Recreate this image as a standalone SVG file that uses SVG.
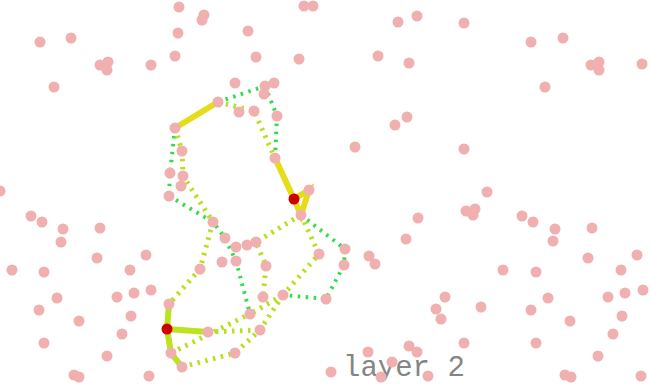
<svg xmlns="http://www.w3.org/2000/svg" width="652" height="385" viewBox="0 0 652 385">
<style>
.ty{fill:none;stroke:#e5dc1a;stroke-width:6}
.tg{fill:none;stroke:#bde21e;stroke-width:6}
.dg{fill:none;stroke:#33dd4a;stroke-width:4;stroke-dasharray:2.5 5.5}
.dy{fill:none;stroke:#b8e020;stroke-width:5;stroke-dasharray:2.5 5.5}
.p{fill:#f0b0b0}
.r{fill:#cc0000}
.lbl{font-family:"Liberation Mono","DejaVu Sans Mono",monospace;font-size:29px;fill:#858585}
</style>
<rect width="652" height="385" fill="#ffffff"/>
<text class="lbl" x="343" y="376">layer 2</text>
<g id="connectors">
<polyline class="dg" points="218,102 265,86"/>
<polyline class="dg" points="265,86 277,116 275,158"/>
<polyline class="dg" points="175,128 170,173 169,196"/>
<polyline class="dg" points="169,196 213,222 225,238 236,261 250,314"/>
<polyline class="dg" points="301,215 345,249 344,265 326,299 283,295"/>
<polyline class="dy" points="218,102 254,111 275,158"/>
<polyline class="dy" points="175,128 182,151 183,176 213,222"/>
<polyline class="dy" points="213,222 200,269 169,304"/>
<polyline class="dy" points="301,215 256,242 266,266 263,297"/>
<polyline class="dy" points="301,215 319,254 283,295"/>
<polyline class="dy" points="283,295 250,314"/>
<polyline class="dy" points="283,295 260,330"/>
<polyline class="dy" points="208,332 260,330"/>
<polyline class="dy" points="171,353 250,314"/>
<polyline class="dy" points="182,367 235,353 260,330"/>
<polyline class="ty" points="175,128 218,102"/>
<polyline class="ty" points="275,158 294,199 301,215 309,190 294,199"/>
<polyline class="tg" points="169,304 167,329 208,332"/>
<polyline class="tg" points="167,329 171,353 182,367"/>
</g>
<g id="points">
<circle class="p" cx="179" cy="7" r="5.5"/><circle class="p" cx="204" cy="15" r="5.5"/><circle class="p" cx="202" cy="20" r="5.5"/>
<circle class="p" cx="178" cy="33" r="5.5"/><circle class="p" cx="40" cy="42" r="5.5"/><circle class="p" cx="71" cy="38" r="5.5"/>
<circle class="p" cx="100" cy="65" r="5.5"/><circle class="p" cx="108" cy="62" r="5.5"/><circle class="p" cx="107" cy="70" r="5.5"/>
<circle class="p" cx="151" cy="65" r="5.5"/><circle class="p" cx="175" cy="56" r="5.5"/><circle class="p" cx="248" cy="31" r="5.5"/>
<circle class="p" cx="256" cy="57" r="5.5"/><circle class="p" cx="299" cy="59" r="5.5"/><circle class="p" cx="304" cy="6" r="5.5"/>
<circle class="p" cx="313" cy="6" r="5.5"/><circle class="p" cx="54" cy="87" r="5.5"/><circle class="p" cx="235" cy="83" r="5.5"/>
<circle class="p" cx="265" cy="86" r="5.5"/><circle class="p" cx="274" cy="83" r="5.5"/><circle class="p" cx="264" cy="94" r="5.5"/>
<circle class="p" cx="218" cy="102" r="5.5"/><circle class="p" cx="239" cy="112" r="5.5"/><circle class="p" cx="254" cy="111" r="5.5"/>
<circle class="p" cx="277" cy="116" r="5.5"/><circle class="p" cx="175" cy="128" r="5.5"/>
<circle class="p" cx="398" cy="22" r="5.5"/><circle class="p" cx="417" cy="16" r="5.5"/><circle class="p" cx="464" cy="23" r="5.5"/>
<circle class="p" cx="531" cy="42" r="5.5"/><circle class="p" cx="563" cy="38" r="5.5"/><circle class="p" cx="378" cy="56" r="5.5"/>
<circle class="p" cx="409" cy="63" r="5.5"/><circle class="p" cx="591" cy="65" r="5.5"/><circle class="p" cx="599" cy="62" r="5.5"/>
<circle class="p" cx="599" cy="70" r="5.5"/><circle class="p" cx="642" cy="64" r="5.5"/><circle class="p" cx="545" cy="87" r="5.5"/>
<circle class="p" cx="407" cy="117" r="5.5"/><circle class="p" cx="395" cy="125" r="5.5"/>
<circle class="p" cx="182" cy="151" r="5.5"/><circle class="p" cx="275" cy="158" r="5.5"/><circle class="p" cx="170" cy="173" r="5.5"/>
<circle class="p" cx="183" cy="176" r="5.5"/><circle class="p" cx="181" cy="186" r="5.5"/><circle class="p" cx="169" cy="196" r="5.5"/>
<circle class="p" cx="309" cy="190" r="5.5"/><circle class="p" cx="301" cy="215" r="5.5"/><circle class="p" cx="0" cy="191" r="5.5"/>
<circle class="p" cx="31" cy="216" r="5.5"/><circle class="p" cx="42" cy="222" r="5.5"/><circle class="p" cx="63" cy="229" r="5.5"/>
<circle class="p" cx="61" cy="242" r="5.5"/><circle class="p" cx="100" cy="228" r="5.5"/><circle class="p" cx="97" cy="258" r="5.5"/>
<circle class="p" cx="146" cy="255" r="5.5"/><circle class="p" cx="12" cy="270" r="5.5"/><circle class="p" cx="44" cy="272" r="5.5"/>
<circle class="p" cx="130" cy="270" r="5.5"/><circle class="p" cx="151" cy="290" r="5.5"/><circle class="p" cx="134" cy="293" r="5.5"/>
<circle class="p" cx="117" cy="297" r="5.5"/><circle class="p" cx="57" cy="298" r="5.5"/><circle class="p" cx="39" cy="310" r="5.5"/>
<circle class="p" cx="79" cy="321" r="5.5"/><circle class="p" cx="131" cy="316" r="5.5"/><circle class="p" cx="122" cy="334" r="5.5"/>
<circle class="p" cx="44" cy="343" r="5.5"/><circle class="p" cx="107" cy="356" r="5.5"/><circle class="p" cx="74" cy="375" r="5.5"/>
<circle class="p" cx="79" cy="377" r="5.5"/><circle class="p" cx="149" cy="376" r="5.5"/><circle class="p" cx="200" cy="269" r="5.5"/>
<circle class="p" cx="169" cy="304" r="5.5"/><circle class="p" cx="171" cy="353" r="5.5"/><circle class="p" cx="182" cy="367" r="5.5"/>
<circle class="p" cx="213" cy="222" r="5.5"/><circle class="p" cx="225" cy="238" r="5.5"/><circle class="p" cx="236" cy="247" r="5.5"/>
<circle class="p" cx="247" cy="245" r="5.5"/><circle class="p" cx="256" cy="242" r="5.5"/><circle class="p" cx="222" cy="262" r="5.5"/>
<circle class="p" cx="236" cy="261" r="5.5"/><circle class="p" cx="266" cy="266" r="5.5"/><circle class="p" cx="345" cy="249" r="5.5"/>
<circle class="p" cx="319" cy="254" r="5.5"/><circle class="p" cx="344" cy="265" r="5.5"/><circle class="p" cx="263" cy="297" r="5.5"/>
<circle class="p" cx="283" cy="295" r="5.5"/><circle class="p" cx="326" cy="299" r="5.5"/><circle class="p" cx="250" cy="314" r="5.5"/>
<circle class="p" cx="208" cy="332" r="5.5"/><circle class="p" cx="260" cy="330" r="5.5"/><circle class="p" cx="235" cy="353" r="5.5"/>
<circle class="p" cx="355" cy="147" r="5.5"/><circle class="p" cx="464" cy="149" r="5.5"/><circle class="p" cx="487" cy="192" r="5.5"/>
<circle class="p" cx="466" cy="211" r="5.5"/><circle class="p" cx="475" cy="209" r="5.5"/><circle class="p" cx="473" cy="215" r="5.5"/>
<circle class="p" cx="418" cy="218" r="5.5"/><circle class="p" cx="406" cy="239" r="5.5"/><circle class="p" cx="522" cy="216" r="5.5"/>
<circle class="p" cx="533" cy="222" r="5.5"/><circle class="p" cx="555" cy="229" r="5.5"/><circle class="p" cx="553" cy="241" r="5.5"/>
<circle class="p" cx="592" cy="228" r="5.5"/><circle class="p" cx="588" cy="258" r="5.5"/><circle class="p" cx="637" cy="255" r="5.5"/>
<circle class="p" cx="369" cy="256" r="5.5"/><circle class="p" cx="375" cy="264" r="5.5"/><circle class="p" cx="503" cy="270" r="5.5"/>
<circle class="p" cx="536" cy="272" r="5.5"/><circle class="p" cx="621" cy="270" r="5.5"/><circle class="p" cx="643" cy="290" r="5.5"/>
<circle class="p" cx="625" cy="293" r="5.5"/><circle class="p" cx="608" cy="297" r="5.5"/><circle class="p" cx="548" cy="298" r="5.5"/>
<circle class="p" cx="445" cy="297" r="5.5"/><circle class="p" cx="436" cy="309" r="5.5"/><circle class="p" cx="441" cy="319" r="5.5"/>
<circle class="p" cx="481" cy="307" r="5.5"/><circle class="p" cx="531" cy="310" r="5.5"/><circle class="p" cx="570" cy="321" r="5.5"/>
<circle class="p" cx="622" cy="316" r="5.5"/><circle class="p" cx="613" cy="334" r="5.5"/><circle class="p" cx="464" cy="343" r="5.5"/>
<circle class="p" cx="536" cy="343" r="5.5"/><circle class="p" cx="598" cy="356" r="5.5"/><circle class="p" cx="368" cy="352" r="5.5"/>
<circle class="p" cx="409" cy="346" r="5.5"/><circle class="p" cx="417" cy="352" r="5.5"/><circle class="p" cx="392" cy="362" r="5.5"/>
<circle class="p" cx="381" cy="377" r="5.5"/><circle class="p" cx="428" cy="376" r="5.5"/><circle class="p" cx="565" cy="375" r="5.5"/>
<circle class="p" cx="571" cy="377" r="5.5"/><circle class="p" cx="641" cy="376" r="5.5"/><circle class="p" cx="331" cy="372" r="5.5"/>
</g>
<g id="red-nodes">
<circle id="node-a" class="r" cx="294" cy="199" r="5.5"/>
<circle id="node-b" class="r" cx="167" cy="329" r="5.5"/>
</g>
</svg>
